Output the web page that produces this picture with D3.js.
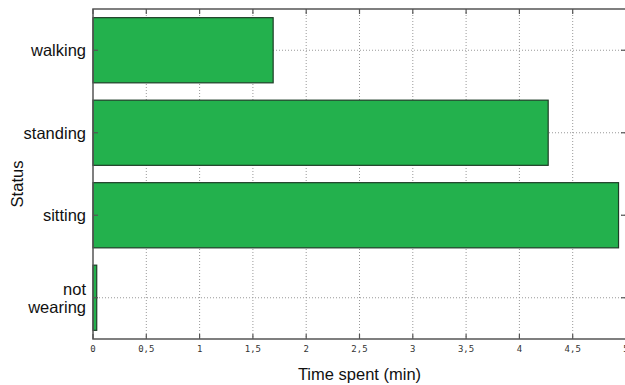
<!DOCTYPE html>
<html>
<head>
<meta charset="utf-8">
<script src="https://cdn.jsdelivr.net/npm/d3@7"></script>
<style>
  body { margin: 0; background: #fff; }
  svg { display: block; }
</style>
</head>
<body>
<div id="chart"></div>
<script>
var categories = ["walking", "standing", "sitting", "not wearing"];
var values = [1.69, 4.27, 4.93, 0.035];
var xTicks = [0, 0.5, 1, 1.5, 2, 2.5, 3, 3.5, 4, 4.5, 5];

var margin = {top: 9, right: -1, bottom: 46, left: 93},
    width = 625 - margin.left - margin.right,
    height = 385 - margin.top - margin.bottom;

var x = d3.scaleLinear().domain([0, 5]).range([0, width]);
var y = d3.scaleBand().domain(categories).range([0, height]).paddingInner(0.21).paddingOuter(0.105);

var svg = d3.select("#chart").append("svg")
    .attr("width", 625)
    .attr("height", 385)
  .append("g")
    .attr("transform", "translate(" + margin.left + "," + margin.top + ")");

// grid
svg.append("g").selectAll("line")
    .data(xTicks.slice(1))
    .enter().append("line")
    .attr("x1", function(d) { return x(d); })
    .attr("x2", function(d) { return x(d); })
    .attr("y1", 0).attr("y2", height)
    .attr("stroke", "#999").attr("stroke-width", 1)
    .attr("stroke-dasharray", "1,2");

svg.append("g").selectAll("line")
    .data(categories)
    .enter().append("line")
    .attr("x1", 0).attr("x2", width)
    .attr("y1", function(d) { return y(d) + y.bandwidth() / 2; })
    .attr("y2", function(d) { return y(d) + y.bandwidth() / 2; })
    .attr("stroke", "#999").attr("stroke-width", 1)
    .attr("stroke-dasharray", "1,2");

// bars
svg.append("g").selectAll("rect")
    .data(categories)
    .enter().append("rect")
    .attr("x", 0)
    .attr("y", function(d) { return y(d); })
    .attr("width", function(d, i) { return x(values[i]); })
    .attr("height", y.bandwidth())
    .attr("fill", "#23b14d")
    .attr("stroke", "#1e3d27")
    .attr("stroke-width", 1.2);

// frame
svg.append("rect")
    .attr("x", 0).attr("y", 0)
    .attr("width", width).attr("height", height)
    .attr("fill", "none")
    .attr("stroke", "#555").attr("stroke-width", 1.5);

// inner ticks on all sides
var tickG = svg.append("g").attr("stroke", "#555").attr("stroke-width", 1.2);
xTicks.forEach(function(t) {
    tickG.append("line").attr("x1", x(t)).attr("x2", x(t)).attr("y1", 0).attr("y2", 5);
    tickG.append("line").attr("x1", x(t)).attr("x2", x(t)).attr("y1", height).attr("y2", height - 5);
});
categories.forEach(function(c) {
    var yy = y(c) + y.bandwidth() / 2;
    tickG.append("line").attr("x1", width).attr("x2", width - 5).attr("y1", yy).attr("y2", yy);
    tickG.append("line").attr("x1", 0).attr("x2", 5).attr("y1", yy).attr("y2", yy);
});

// x tick labels
svg.append("g").selectAll("text")
    .data(xTicks)
    .enter().append("text")
    .attr("x", function(d) { return x(d); })
    .attr("y", height + 13)
    .attr("text-anchor", "middle")
    .style("font-family", "DejaVu Sans Mono, monospace")
    .style("font-size", "9px")
    .style("fill", "#333")
    .text(function(d) { return String(d).replace(".", ","); });

// y category labels
var labG = svg.append("g");
categories.forEach(function(c) {
    var yy = y(c) + y.bandwidth() / 2;
    var words = c === "not wearing" ? ["not", "wearing"] : [c];
    var t = labG.append("text")
        .attr("text-anchor", "end")
        .style("font-family", "Liberation Sans, Arial, sans-serif")
        .style("font-size", "16.5px")
        .style("fill", "#111");
    words.forEach(function(w, i) {
        t.append("tspan")
            .attr("x", -7)
            .attr("y", yy + 6 + (i - (words.length - 1) / 2) * 17.5)
            .text(w);
    });
});

// axis titles
svg.append("text")
    .attr("x", width / 2)
    .attr("y", height + 41)
    .attr("text-anchor", "middle")
    .style("font-family", "Liberation Sans, Arial, sans-serif")
    .style("font-size", "16.5px")
    .style("fill", "#111")
    .text("Time spent (min)");

svg.append("text")
    .attr("transform", "translate(" + (-70) + "," + (height / 2 + 10) + ") rotate(-90)")
    .attr("text-anchor", "middle")
    .style("font-family", "Liberation Sans, Arial, sans-serif")
    .style("font-size", "16.5px")
    .style("fill", "#111")
    .text("Status");
</script>
</body>
</html>
